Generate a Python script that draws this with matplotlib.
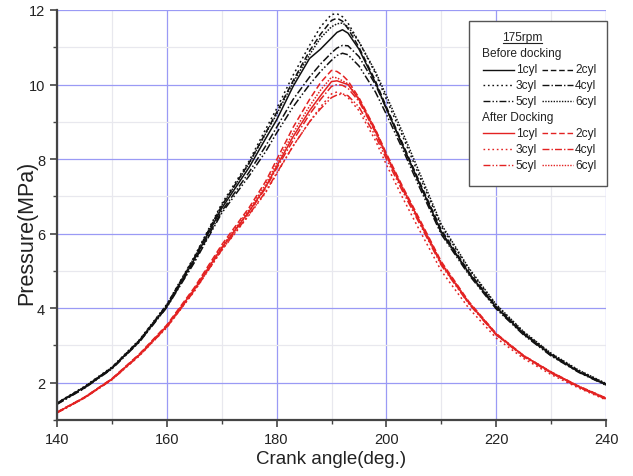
import matplotlib
matplotlib.use("Agg")
import matplotlib.pyplot as plt
from matplotlib.lines import Line2D
from matplotlib.patches import Rectangle
from matplotlib.ticker import MultipleLocator

plt.rcParams['font.family'] = ['Liberation Sans', 'DejaVu Sans']

# ---- data ----
crank_angle = [140, 145, 150, 155, 160, 165, 170, 175, 178, 180, 183, 186, 188, 190,
               191, 192, 193, 195, 198, 200, 203, 206, 210, 215, 220, 225, 230, 235, 240]

before_1cyl = [1.45, 1.88, 2.40, 3.12, 4.05, 5.30, 6.68, 7.78, 8.55, 9.05, 9.95, 10.70, 10.95, 11.25,
               11.40, 11.47, 11.38, 10.95, 10.05, 9.35, 8.35, 7.35, 6.05, 4.95, 4.02, 3.32, 2.75, 2.30, 1.95]
before_2cyl = [1.44, 1.87, 2.39, 3.13, 4.08, 5.35, 6.75, 7.90, 8.70, 9.25, 10.10, 10.90, 11.35, 11.72,
               11.78, 11.70, 11.50, 11.00, 10.10, 9.40, 8.40, 7.40, 6.10, 4.98, 4.04, 3.33, 2.76, 2.31, 1.96]
before_3cyl = [1.46, 1.90, 2.42, 3.15, 4.10, 5.38, 6.80, 7.95, 8.80, 9.35, 10.25, 11.05, 11.55, 11.88,
               11.90, 11.82, 11.65, 11.15, 10.30, 9.60, 8.60, 7.55, 6.20, 5.05, 4.08, 3.36, 2.78, 2.33, 1.97]
before_4cyl = [1.43, 1.86, 2.38, 3.10, 4.03, 5.25, 6.60, 7.65, 8.35, 8.85, 9.60, 10.20, 10.55, 10.85,
               10.98, 11.05, 11.04, 10.75, 10.00, 9.35, 8.35, 7.35, 6.02, 4.93, 4.00, 3.30, 2.73, 2.29, 1.94]
before_5cyl = [1.42, 1.85, 2.37, 3.09, 4.02, 5.22, 6.55, 7.55, 8.20, 8.70, 9.40, 10.00, 10.35, 10.65,
               10.78, 10.84, 10.80, 10.50, 9.80, 9.20, 8.25, 7.25, 5.98, 4.90, 3.98, 3.28, 2.72, 2.28, 1.93]
before_6cyl = [1.45, 1.89, 2.41, 3.14, 4.09, 5.36, 6.75, 7.88, 8.68, 9.20, 10.05, 10.80, 11.25, 11.55,
               11.63, 11.65, 11.55, 11.15, 10.35, 9.70, 8.70, 7.65, 6.25, 5.08, 4.10, 3.37, 2.79, 2.34, 1.98]

after_1cyl = [1.20, 1.60, 2.10, 2.75, 3.52, 4.50, 5.62, 6.60, 7.25, 7.80, 8.60, 9.30, 9.70, 10.08,
              10.10, 10.05, 10.00, 9.60, 8.75, 8.10, 7.20, 6.35, 5.20, 4.15, 3.30, 2.72, 2.28, 1.90, 1.58]
after_2cyl = [1.21, 1.61, 2.11, 2.77, 3.55, 4.55, 5.70, 6.70, 7.40, 7.98, 8.85, 9.60, 10.05, 10.38,
              10.35, 10.25, 10.10, 9.65, 8.80, 8.15, 7.25, 6.40, 5.25, 4.18, 3.32, 2.73, 2.29, 1.91, 1.59]
after_3cyl = [1.19, 1.59, 2.08, 2.72, 3.48, 4.45, 5.55, 6.50, 7.10, 7.60, 8.35, 9.00, 9.40, 9.75,
              9.80, 9.75, 9.65, 9.30, 8.50, 7.85, 6.95, 6.10, 5.00, 4.00, 3.20, 2.65, 2.22, 1.86, 1.54]
after_4cyl = [1.20, 1.60, 2.09, 2.74, 3.50, 4.48, 5.60, 6.58, 7.22, 7.75, 8.50, 9.20, 9.60, 9.95,
              10.00, 9.98, 9.90, 9.55, 8.72, 8.08, 7.18, 6.32, 5.18, 4.13, 3.29, 2.71, 2.27, 1.89, 1.57]
after_5cyl = [1.19, 1.59, 2.08, 2.73, 3.49, 4.46, 5.56, 6.52, 7.12, 7.62, 8.35, 9.00, 9.35, 9.65,
              9.72, 9.75, 9.70, 9.40, 8.62, 8.00, 7.12, 6.28, 5.15, 4.12, 3.28, 2.70, 2.26, 1.88, 1.56]
after_6cyl = [1.21, 1.61, 2.10, 2.76, 3.53, 4.52, 5.65, 6.65, 7.32, 7.88, 8.70, 9.42, 9.85, 10.20,
              10.18, 10.10, 10.02, 9.62, 8.78, 8.12, 7.22, 6.36, 5.22, 4.16, 3.31, 2.73, 2.29, 1.91, 1.59]

cyl_labels = ["1cyl", "2cyl", "3cyl", "4cyl", "5cyl", "6cyl"]
before = [before_1cyl, before_2cyl, before_3cyl, before_4cyl, before_5cyl, before_6cyl]
after = [after_1cyl, after_2cyl, after_3cyl, after_4cyl, after_5cyl, after_6cyl]

# ---- styles ----
styles = ['-', (0, (4, 2)), (0, (1.2, 2)), (0, (5, 1.5, 1, 1.5)),
          (0, (5, 1.5, 1, 1.5, 1, 1.5)), (0, (1, 1))]
black = '#111111'
red = '#e32222'

fig = plt.figure(figsize=(6.33, 4.77), dpi=100)
ax = fig.add_axes([57 / 633, 1 - 421 / 477, (606 - 57) / 633, (421 - 11) / 477])

for vals, ls in zip(before, styles):
    ax.plot(crank_angle, vals, color=black, linestyle=ls, lw=1.1)
for vals, ls in zip(after, styles):
    ax.plot(crank_angle, vals, color=red, linestyle=ls, lw=1.1)

ax.set_xlim(140, 240)
ax.set_ylim(1, 12)
ax.xaxis.set_major_locator(MultipleLocator(20))
ax.xaxis.set_minor_locator(MultipleLocator(10))
ax.yaxis.set_major_locator(MultipleLocator(2))
ax.yaxis.set_minor_locator(MultipleLocator(1))
ax.grid(True, which='major', color='#9a9af5', lw=0.9)
ax.grid(True, which='minor', color='#e8e8ee', lw=0.9)
ax.set_axisbelow(True)

for s in ['top', 'right']:
    ax.spines[s].set_visible(False)
for s in ['left', 'bottom']:
    ax.spines[s].set_color('#444444')
    ax.spines[s].set_linewidth(1.6)

ax.tick_params(which='major', direction='out', length=5, width=1.2, color='#444444',
               labelsize=10.5, labelcolor='#222222')
ax.tick_params(which='minor', direction='out', length=3, width=1.0, color='#444444')

ax.set_xlabel('Crank angle(deg.)', fontsize=13.5, color='#222222', labelpad=3)
ax.set_ylabel('Pressure(MPa)', fontsize=15.5, color='#222222')
ax.yaxis.set_label_coords(-0.036, 0.46)

# ---- custom legend (pixel layout converted to figure fraction) ----
W, H = 633, 477
def fx(px):
    return px / W
def fy(py):
    return 1 - py / H

fig.add_artist(Rectangle((fx(469), fy(187)), fx(607) - fx(469), fy(22) - fy(187),
                         transform=fig.transFigure, facecolor='white',
                         edgecolor='#555555', lw=1.0, zorder=5))
tkw = dict(fontsize=8.6, color='#222222', va='center', zorder=6)
fig.text(fx(522), fy(38), '175rpm', ha='center', **tkw)
fig.add_artist(Line2D([fx(503), fx(542)], [fy(44), fy(44)], transform=fig.transFigure,
                      color='#222222', lw=0.8, zorder=6))
fig.text(fx(482), fy(54), 'Before docking', ha='left', **tkw)
fig.text(fx(482), fy(118), 'After Docking', ha='left', **tkw)

rows_before = [70.5, 86, 101.5]
rows_after = [134, 150, 165.5]
for group, color, rows in [(0, black, rows_before), (1, red, rows_after)]:
    for i in range(6):
        r = rows[i // 2]
        col = i % 2
        x0 = 483 if col == 0 else 542
        fig.add_artist(Line2D([fx(x0), fx(x0 + 31)], [fy(r), fy(r)], transform=fig.transFigure,
                              color=color, linestyle=styles[i], lw=1.0, zorder=6))
        fig.text(fx(x0 + 33), fy(r), cyl_labels[i], ha='left', **tkw)

fig.savefig('out.png', dpi=100)
